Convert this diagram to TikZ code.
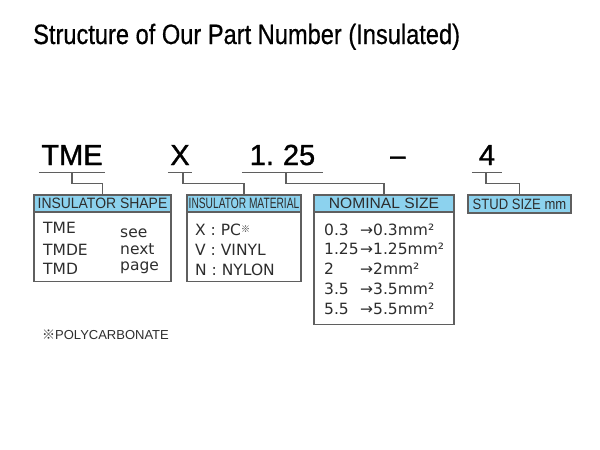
\documentclass[tikz,border=0pt]{standalone}
\usepackage{fontspec}
\setmainfont{Liberation Sans}
\newfontfamily\codefont[FakeBold=1.2]{Liberation Sans}
\newfontfamily\titlefont[FakeBold=0.6]{Liberation Sans}
\newfontfamily\bodyfont{DejaVu Sans}
\newfontfamily\cjk{Noto Sans CJK JP}
\usetikzlibrary{positioning}
\definecolor{headblue}{RGB}{140,210,238}
\definecolor{framegray}{RGB}{95,95,95}
\definecolor{inkgray}{RGB}{45,45,45}
\newcommand{\squeeze}[2]{\scalebox{#1}[1]{#2}}
\tikzset{
  code/.style={anchor=base, inner xsep=0pt, inner ysep=7pt, font=\codefont\fontsize{29}{29}\selectfont},
  uline/.style={draw=framegray, line width=1.3pt},
  link/.style={draw=framegray, line width=1.1pt},
  head/.style={draw=framegray, fill=headblue, line width=1.1pt, minimum height=17pt,
    inner sep=0pt, text=inkgray, font=\fontsize{15}{15}\selectfont},
  body/.style={draw=framegray, line width=1.1pt, anchor=north, inner sep=0pt},
  rowtext/.style={anchor=base west, inner sep=0pt, text=inkgray,
    font=\bodyfont\fontsize{15.5}{15.5}\selectfont},
}
\begin{document}
\begin{tikzpicture}[x=1pt,y=-1pt]
\useasboundingbox (0,0) rectangle (600,450);
%TITLE
  \node[anchor=base west, inner sep=0pt, font=\titlefont\fontsize{28}{28}\selectfont] (title) at (33,44)
    {\squeeze{0.844}{Structure of Our Part Number (Insulated)}};

%PART NUMBER
  \node[code, minimum width=66pt] (tme) at (72,165) {TME};
  \node[code, minimum width=24pt] (xcode) at (180,165) {X};
  \node[code, minimum width=81pt] (size) at (282.5,165) {1.\hspace{9pt}25};
  \node[code, anchor=base west] (dash) at (390,165) {\squeeze{0.95}{–}};
  \node[code, minimum width=30pt] (stud) at (487,165) {4};
  \draw[uline] (tme.south west) -- (tme.south east);
  \draw[uline] (xcode.south west) -- (xcode.south east);
  \draw[uline] (size.south west) -- (size.south east);
  \draw[uline] (stud.south west) -- (stud.south east);

%INSULATOR SHAPE
  \node[body, minimum width=137pt, minimum height=69pt] (shapebody) at (102.5,212) {};
  \node[head, minimum width=137pt] (shape) at (102.5,203.5) {\squeeze{0.93}{INSULATOR SHAPE}};
  \node[rowtext] (tmeitem) at (43,233) {TME};
  \node[rowtext] (tmdeitem) at (43,255) {TMDE};
  \node[rowtext] (tmditem) at (43,274) {TMD};
  \node[rowtext] (see) at (120,237) {see};
  \node[rowtext] (next) at (120,254) {next};
  \node[rowtext] (page) at (120,270) {page};

%INSULATOR MATERIAL
  \node[body, minimum width=114pt, minimum height=69pt] (matbody) at (244,212) {};
  \node[head, minimum width=114pt] (material) at (244,203.5) {\squeeze{0.68}{INSULATOR MATERIAL}};
  \node[rowtext] (pc) at (195,235) {X : PC\raisebox{3pt}{\cjk\fontsize{9}{9}\selectfont ※}};
  \node[rowtext] (vinyl) at (195,255) {V : VINYL};
  \node[rowtext] (nylon) at (195,275) {N : NYLON};

%NOMINAL SIZE
  \node[body, minimum width=140pt, minimum height=112pt] (nombody) at (384,212) {};
  \node[head, minimum width=140pt] (nominal) at (384,203.5) {\squeeze{1.04}{NOMINAL SIZE}};
  \foreach \val/\yb [count=\i] in {0.3/235, 1.25/254, 2/274, 3.5/294, 5.5/314}{
    \node[rowtext] (num\i) at (324,\yb) {\val};
    \node[rowtext] (mm\i) at (360,\yb) {→\val mm²};
  }

%STUD SIZE
  \node[head, minimum width=103pt, minimum height=18pt] (studsize) at (519.5,204)
    {\squeeze{0.87}{STUD SIZE mm}};

%CONNECTORS
  \draw[link] (tme.south) -- ++(0,11) -| (shape.north);
  \draw[link] ([xshift=3pt]xcode.south) -- ++(0,11) -| (material.north);
  \draw[link] ([xshift=3.5pt]size.south) -- ++(0,11) -| (nominal.north);
  \draw[link] ([xshift=-1pt]stud.south) -- ++(0,11) -| (studsize.north);

%NOTE
  \node[anchor=base west, inner sep=0pt, text=inkgray, font=\fontsize{13}{13}\selectfont] (note) at (42,339)
    {{\cjk\fontsize{13}{13}\selectfont ※}POLYCARBONATE};
\end{tikzpicture}
\end{document}
